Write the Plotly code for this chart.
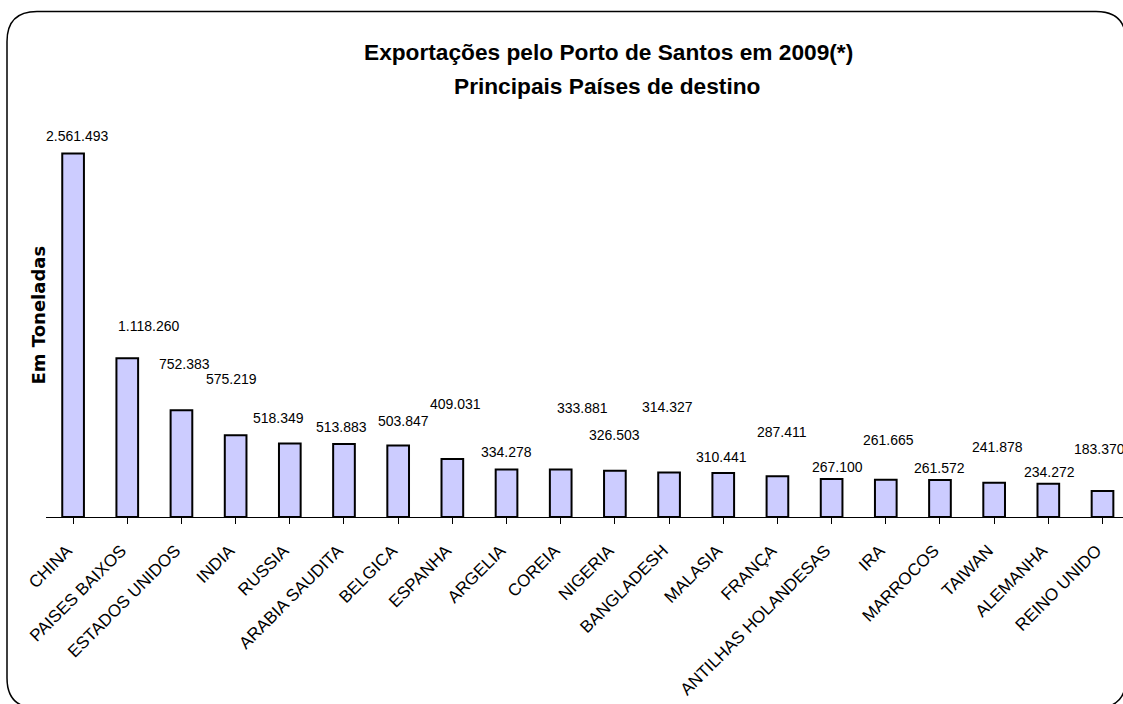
import plotly.graph_objects as go

# ---- data ----
countries = ["CHINA", "PAISES BAIXOS", "ESTADOS UNIDOS", "INDIA", "RUSSIA",
             "ARABIA SAUDITA", "BELGICA", "ESPANHA", "ARGELIA", "COREIA",
             "NIGERIA", "BANGLADESH", "MALASIA", "FRANÇA", "ANTILHAS HOLANDESAS",
             "IRA", "MARROCOS", "TAIWAN", "ALEMANHA", "REINO UNIDO"]
tonnes = [2561493, 1118260, 752383, 575219, 518349,
          513883, 503847, 409031, 334278, 333881,
          326503, 314327, 310441, 287411, 267100,
          261665, 261572, 241878, 234272, 183370]

title_line1 = "Exportações pelo Porto de Santos em 2009(*)"
title_line2 = "Principais Países de destino"
y_title = "Em Toneladas"

# ---- label placement (pixel offsets, styling only) ----
label_dy = [18, 32, 46, 56, 25, 17, 25, 55, 18, 62,
            36, 65, 16, 44, 12, 40, 12, 36, 12, 42]
label_dx = [4, 21, 3, -4, -11, -2, 5, 3, 0, 22,
            0, -2, -2, 5, 6, 3, 0, 3, 1, -3]

W, H = 1123, 704
ML, MR, MT, MB = 46, 0, 120, 187
PW, PH = W - ML - MR, H - MT - MB
FONT = "Liberation Sans, Arial, sans-serif"


def px(x):
    return (x - ML) / PW


def py(y):
    return (H - MB - y) / PH


def fmt(v):
    return f"{v:,}".replace(",", ".")


fig = go.Figure()
fig.add_trace(go.Bar(
    x=list(range(len(countries))), y=tonnes,
    marker=dict(color="#CCCCFF", line=dict(color="black", width=2)),
    width=0.4, hoverinfo="skip",
))

annotations = []
for i, v in enumerate(tonnes):
    annotations.append(dict(
        x=i, y=v, xref="x", yref="y", text=fmt(v), showarrow=False,
        xanchor="center", yanchor="middle", yshift=label_dy[i], xshift=label_dx[i],
        font=dict(family=FONT, size=14, color="black"),
    ))

annotations.append(dict(x=px(608), y=py(52.5), xref="paper", yref="paper",
                        text=f"<b>{title_line1}</b>", showarrow=False,
                        xanchor="center", yanchor="middle",
                        font=dict(family=FONT, size=22.7, color="black")))
annotations.append(dict(x=px(607), y=py(85.5), xref="paper", yref="paper",
                        text=f"<b>{title_line2}</b>", showarrow=False,
                        xanchor="center", yanchor="middle",
                        font=dict(family=FONT, size=22.7, color="black")))
annotations.append(dict(x=px(37.5), y=py(315), xref="paper", yref="paper",
                        text=f"<b>{y_title}</b>", showarrow=False, textangle=-90,
                        xanchor="center", yanchor="middle",
                        font=dict(family="DejaVu Sans, sans-serif", size=18, color="black")))

# rounded frame, drawn as an open path (right side lies outside the picture)
x0, y0, x1, y1, r = 7, 11.5, 1126, 708, 30
path = (f"M {px(x1)},{py(y0+r)} Q {px(x1)},{py(y0)} {px(x1-r)},{py(y0)} "
        f"L {px(x0+r)},{py(y0)} Q {px(x0)},{py(y0)} {px(x0)},{py(y0+r)} "
        f"L {px(x0)},{py(y1-r)} Q {px(x0)},{py(y1)} {px(x0+r)},{py(y1)} "
        f"L {px(x1-r)},{py(y1)} Q {px(x1)},{py(y1)} {px(x1)},{py(y1-r)}")
shapes = [dict(type="path", xref="paper", yref="paper", path=path,
               line=dict(color="black", width=1.5))]

n = len(countries)
cat_px = 54.18
fig.update_layout(
    width=W, height=H,
    margin=dict(l=ML, r=MR, t=MT, b=MB, pad=0),
    paper_bgcolor="white", plot_bgcolor="white",
    showlegend=False,
    annotations=annotations, shapes=shapes,
    xaxis=dict(
        range=[-0.5, -0.5 + PW / cat_px],
        tickmode="array", tickvals=list(range(n)), ticktext=countries,
        tickangle=-45, tickfont=dict(family=FONT, size=17, color="black"),
        ticklabelstandoff=10, ticklabelshift=-6,
        showline=True, linecolor="black", linewidth=1,
        ticks="outside", ticklen=6, tickcolor="black", tickwidth=1,
        tickson="boundaries", showgrid=False, zeroline=False,
        automargin=False, fixedrange=True,
    ),
    yaxis=dict(
        range=[0, 2561493 * PH / 363.5], visible=False,
        showgrid=False, zeroline=False, automargin=False, fixedrange=True,
    ),
)

fig.write_html(
    "out.html",
    config={"displayModeBar": False},
    post_script="document.body.style.margin='0';document.body.style.overflow='hidden';",
)
